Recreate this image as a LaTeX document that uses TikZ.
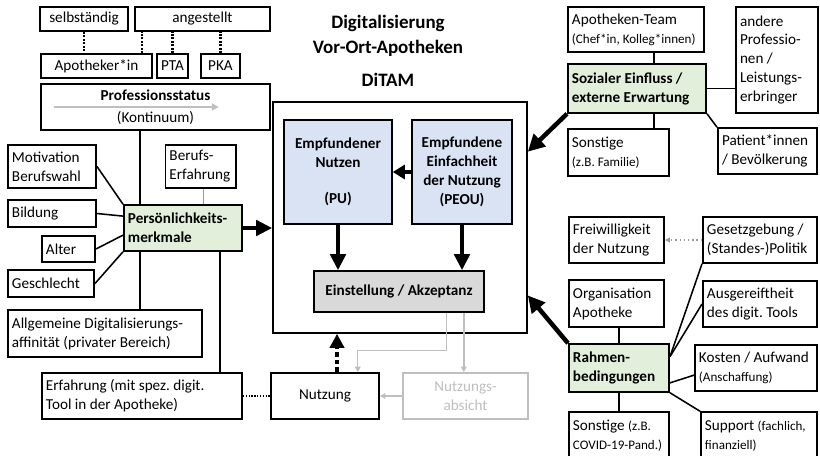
\documentclass[tikz,border=0pt]{standalone}
\usepackage{fontspec}
\setmainfont{Carlito}
\frenchspacing
\usetikzlibrary{positioning,arrows.meta,calc}
\definecolor{green1}{HTML}{E2EFDA}
\definecolor{blue1}{HTML}{DAE3F3}
\definecolor{gray1}{HTML}{D9D9D9}
\definecolor{gray2}{HTML}{BFBFBF}
\definecolor{gray3}{HTML}{999999}
\newcommand{\ditamfont}{\fontsize{10.8}{13.5}\selectfont}
\newcommand{\smalltxt}[1]{{\fontsize{9.3}{11}\selectfont #1}}

\begin{document}
\begin{tikzpicture}[x=0.025cm, y=-0.025cm,
    box/.style={draw, line width=1.1pt, inner sep=2pt, align=flush center,
                font=\ditamfont},
    lbox/.style={box, align=flush left, inner xsep=3pt},
    greenbox/.style={lbox, fill=green1, font=\ditamfont\bfseries},
    link/.style={line width=1.1pt},
    dots/.style={line width=1.5pt, dash pattern=on 1.5pt off 1pt},
    dotline/.style={line width=1pt, dash pattern=on 1pt off 1pt},
    grayline/.style={gray2, line width=1pt, -{Triangle[length=4pt,width=4pt]}},
    bigarrow/.style={line width=2.8pt, -{Triangle[length=0.4cm,width=0.38cm]}},
    slantarrow/.style={line width=3.2pt, -{Triangle[length=0.42cm,width=0.42cm]}},
]
\path[use as bounding box, fill=white] (0,0) rectangle (820,455);
\clip (0,0) rectangle (820,455);

% Professionsstatus
\node[box, minimum width=2.2cm, minimum height=0.6cm] (selb) at (84,19) {selbständig};
\node[box, minimum width=3.375cm, minimum height=0.6cm] (anges) at (202.5,19) {angestellt};
\node[box, minimum width=2.775cm, minimum height=0.6cm] (apo) at (96.5,66) {Apotheker*in};
\node[box, minimum width=0.775cm, minimum height=0.6cm] (pta) at (172.5,66) {PTA};
\node[box, minimum width=0.975cm, minimum height=0.6cm] (pka) at (220.5,66) {PKA};
\node[box, minimum width=5.725cm, minimum height=1.15cm] (prof) at (155.5,107)
    {\textbf{Professionsstatus}\\[2pt](Kontinuum)};
\draw[gray2, line width=1.4pt, -{Triangle[length=5pt,width=5pt]}]
    ([xshift=0.35cm]prof.west) -- ([xshift=-1.3cm]prof.east);

% Persoenlichkeitsmerkmale
\node[lbox, text width=2cm, minimum height=1.075cm] (motiv) at (52,166.5) {Motivation\\Berufswahl};
\node[lbox, text width=1.55cm, minimum height=1.075cm] (berufs) at (200.5,166.5) {Berufs-\\Erfahrung};
\node[lbox, text width=2cm, minimum height=0.675cm] (bild) at (52,213.5) {Bildung};
\node[greenbox, text width=2.75cm, minimum height=1.15cm] (pers) at (183,228)
    {Persönlichkeits-\\merkmale};
\node[lbox, text width=1.125cm, minimum height=0.65cm] (alter) at (68.5,249) {Alter};
\node[lbox, text width=1.95cm, minimum height=0.675cm] (geschl) at (51,283.5) {Geschlecht};
\node[lbox, text width=4.65cm, minimum height=1.175cm] (allg) at (105,333.5)
    {Allgemeine Digitalisierungs-\\affinität (privater Bereich)};
\node[lbox, text width=4.8cm, minimum height=1.15cm] (erf) at (142,396)
    {Erfahrung (mit spez. digit.\\Tool in der Apotheke)};

% DiTAM
\node[font=\fontsize{13.5}{18}\selectfont\bfseries, align=center] (title) at (388,36)
    {Digitalisierung\\Vor-Ort-Apotheken};
\node[font=\fontsize{13.5}{18}\selectfont\bfseries] (ditam) at (388,80) {DiTAM};
\node[box, minimum width=6.35cm, minimum height=5.775cm] (main) at (400,217.5) {};
\node[box, fill=blue1, font=\ditamfont\bfseries, minimum width=2.7cm, minimum height=2.6cm]
    (pu) at (338,172) {Empfundener\\Nutzen\\[12pt](PU)};
\node[box, fill=blue1, font=\ditamfont\bfseries, minimum width=2.5cm, minimum height=2.6cm]
    (peou) at (462,172) {Empfundene\\Einfachheit\\der Nutzung\\(PEOU)};
\node[box, fill=gray1, font=\ditamfont\bfseries, minimum width=4.25cm, minimum height=1.025cm]
    (einst) at (399,291.5) {Einstellung / Akzeptanz};
\node[box, minimum width=2.7cm, minimum height=1.15cm] (nutz) at (325,396) {Nutzung};
\node[box, draw=gray2, text=gray2, minimum width=3.125cm, minimum height=1.15cm]
    (absicht) at (465.5,396) {Nutzungs-\\absicht};

% Sozialer Einfluss
\node[lbox, text width=3.2cm, minimum height=1.125cm] (team) at (636,29.5)
    {Apotheken-Team\\\smalltxt{(Chef*in, Kolleg*innen)}};
\node[lbox, text width=1.85cm, minimum height=2.65cm, inner ysep=1pt] (andere) at (777,60)
    {andere\\Professio-\\nen /\\Leistungs-\\erbringer};
\node[greenbox, text width=3.25cm, minimum height=1.225cm] (sozial) at (637,88.5)
    {Sozialer Einfluss /\\externe Erwartung};
\node[lbox, text width=2.325cm, minimum height=1.175cm] (sonst1) at (618.5,152.5)
    {Sonstige\\\smalltxt{(z.B. Familie)}};
\node[lbox, text width=2.275cm, minimum height=1.15cm] (patient) at (767.5,151)
    {Patient*innen\\/ Bevölkerung};

% Rahmenbedingungen
\node[lbox, text width=2.175cm, minimum height=1.15cm] (freiw) at (616.5,240)
    {Freiwilligkeit\\der Nutzung};
\node[lbox, text width=2.65cm, minimum height=1.15cm] (gesetz) at (760,240)
    {Gesetzgebung /\\(Standes-)Politik};
\node[lbox, text width=2.175cm, minimum height=1.175cm] (orga) at (616.5,303.5)
    {Organisation\\Apotheke};
\node[lbox, text width=2.65cm, minimum height=1.15cm] (ausg) at (760,304)
    {Ausgereiftheit\\des digit. Tools};
\node[greenbox, text width=2.3cm, minimum height=1.2cm] (rahmen) at (619,368)
    {Rahmen-\\bedingungen};
\node[lbox, text width=2.85cm, minimum height=1.15cm] (kosten) at (756,368)
    {Kosten / Aufwand\\\smalltxt{(Anschaffung)}};
\node[lbox, text width=2.3cm, minimum height=1.2cm] (sonst2) at (619,436)
    {Sonstige \smalltxt{(z.B.}\\\smalltxt{COVID-19-Pand.)}};
\node[lbox, text width=2.7cm, minimum height=1.2cm] (support) at (759,436)
    {Support \smalltxt{(fachlich,}\\\smalltxt{finanziell)}};

% connectors left
\draw[dots] (selb.south) -- (selb.south |- apo.north);
\draw[dots] ([xshift=-0.275cm]apo.north east) -- ([xshift=-0.275cm]apo.north east |- anges.south);
\draw[dots] (pta.north) -- (pta.north |- anges.south);
\draw[dots] (pka.north) -- (pka.north |- anges.south);
\draw[link] ([xshift=0.425cm]pers.north west) -- ([xshift=0.425cm]pers.north west |- prof.south);
\draw[link, gray3] ([xshift=0.075cm]berufs.south) -- ([xshift=0.075cm]berufs.south |- pers.north);
\draw[link] (motiv.east) -- (pers.north west);
\draw[link] (bild.east) -- ($(pers.north west)!0.25!(pers.south west)$);
\draw[link] (alter.east) -- ($(pers.north west)!0.65!(pers.south west)$);
\draw[link] (geschl.east) -- (pers.south west);
\draw[link] ([xshift=0.425cm]pers.south west) -- ([xshift=0.425cm]pers.south west |- allg.north);
\draw[link] ([xshift=-0.575cm]pers.south east) -- ([xshift=-0.575cm]pers.south east |- erf.north);
\draw[bigarrow] (pers.east) -- (pers.east -| main.west);

% connectors centre
\draw[line width=2.8pt, -{Triangle[length=0.3cm,width=0.35cm]}] (peou.west) -- (pu.east);
\draw[bigarrow] (pu.south) -- (pu.south |- einst.north);
\draw[bigarrow] (peou.south) -- (peou.south |- einst.north);
\draw[grayline] ([xshift=-0.95cm]einst.south east) -- ++(0,38) -| ([xshift=-0.55cm]nutz.north east);
\draw[grayline] ([xshift=-0.525cm]einst.south east) -- ([xshift=-0.525cm]einst.south east |- absicht.north);
\draw[grayline] (absicht.west) -- (nutz.east);
\draw[dotline] (erf.east) -- (nutz.west);
\draw[line width=3pt, dash pattern=on 3.5pt off 2pt, -{Triangle[length=0.35cm,width=0.35cm]}]
    ([xshift=0.3cm]nutz.north) -- ([xshift=0.3cm]nutz.north |- main.south);

% connectors right
\draw[link] ([xshift=-1.275cm]team.south east) -- ([xshift=-1.275cm]team.south east |- sozial.north);
\draw[link] (sozial.east) -- (sozial.east -| andere.west);
\draw[link] ([xshift=-1.325cm]sozial.south east) -- ([xshift=-1.325cm]sozial.south east |- sonst1.north);
\draw[link] (sozial.south east) -- (patient.north west);
\draw[slantarrow] (sozial.south west) -- ($(main.north east)!0.217!(main.south east)$);
\draw[gray3, line width=1pt, dotted, -{Triangle[length=3.5pt,width=3.5pt]}] (gesetz.west) -- (freiw.east);
\draw[link] (rahmen.north |- orga.south) -- (rahmen.north);
\draw[link] (rahmen.south) -- (rahmen.south |- sonst2.north);
\draw[link] ($(rahmen.north east)!0.27!(rahmen.south east)$) -- (gesetz.south west);
\draw[link] ($(rahmen.north east)!0.27!(rahmen.south east)$) -- (ausg.west);
\draw[link] ($(rahmen.north east)!0.8!(rahmen.south east)$) -- ($(kosten.north west)!0.65!(kosten.south west)$);
\draw[link] (rahmen.south east) -- (support.north west);
\draw[slantarrow] (rahmen.north west) -- ($(main.north east)!0.835!(main.south east)$);
\end{tikzpicture}
\end{document}
